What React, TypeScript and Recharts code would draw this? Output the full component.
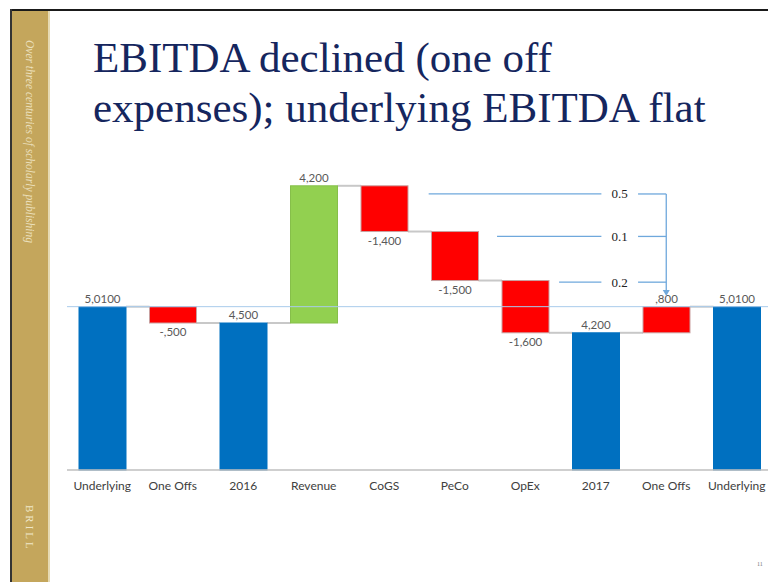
import React from 'react';
import { BarChart, Bar, XAxis, YAxis, ReferenceLine } from 'recharts';

// waterfall steps
const categories = ['Underlying', 'One Offs', '2016', 'Revenue', 'CoGS', 'PeCo', 'OpEx', '2017', 'One Offs', 'Underlying'];
const amounts = [5000, -500, 4500, 4200, -1400, -1500, -1600, 4200, 800, 5000];
const kinds = ['total', 'cost', 'total', 'income', 'cost', 'cost', 'cost', 'total', 'cost', 'total'];
const valueLabels = ['5,0100', '-,500', '4,500', '4,200', '-1,400', '-1,500', '-1,600', '4,200', ',800', '5,0100'];

// callouts on the right
const noteLabels = ['0.5', '0.1', '0.2'];
const noteLevels = [8450, 7150, 5750];
const underlyingLevel = 5000;

const PAGE_W = 768;
const PAGE_H = 582;
const CHART_W = 772;
const CHART_H = 500;
const PLOT_LEFT = 67;
const PLOT_TOP = 176;
const AXIS_H = 30;
const PLOT_BOTTOM = CHART_H - AXIS_H;
const Y_MAX = 9000;
const BAND = (CHART_W - PLOT_LEFT) / categories.length;

const COLORS: Record<string, string> = {
  total: '#0070C0',
  cost: '#FF0000',
  income: '#92D050',
};
const EDGE: Record<string, string> = {
  total: '#0070C0',
  cost: '#C9A0A0',
  income: '#86BF4A',
};

let running = 0;
const rows = categories.map((name, i) => {
  const isTotal = kinds[i] === 'total';
  const start = isTotal ? 0 : running;
  const end = isTotal ? amounts[i] : running + amounts[i];
  running = end;
  return {
    name,
    range: [Math.min(start, end), Math.max(start, end)],
    rising: end >= start,
    kind: kinds[i],
    label: valueLabels[i],
  };
});

// pixel helpers for the overlay (same scale as the chart)
const xAt = (band: number) => PLOT_LEFT + band * BAND;
const yAt = (v: number) => PLOT_BOTTOM - (v * (PLOT_BOTTOM - PLOT_TOP)) / Y_MAX;

const WaterfallShape = (props: any) => {
  const { x, width, index, payload } = props;
  const y = Math.min(props.y, props.y + props.height);
  const h = Math.abs(props.height);
  const endY = payload.rising ? y : y + h;
  const isLast = index === rows.length - 1;
  return (
    <g>
      {!isLast && (
        <line x1={x + width} x2={x + BAND} y1={endY} y2={endY} stroke="#C8C8C8" strokeWidth={2} />
      )}
      <rect x={x} y={y} width={width} height={h} fill={COLORS[payload.kind]} stroke={EDGE[payload.kind]} strokeWidth={1} />
      <text
        x={x + width / 2}
        y={payload.rising ? y - 4 : y + h + 13}
        textAnchor="middle"
        fill="#595959"
        fontSize={11.5}
        fontFamily="Lato, 'Open Sans', sans-serif"
      >
        {payload.label}
      </text>
    </g>
  );
};

const Overlay = () => {
  const split = xAt(7.58);
  const resume = xAt(8.1);
  const textX = xAt(7.84);
  const arrowX = xAt(8.5);
  const starts = [5.13, 6.1, 6.98];
  const arrowTip = 296;
  return (
    <svg width={PAGE_W} height={PAGE_H} style={{ position: 'absolute', left: 0, top: 0, pointerEvents: 'none' }}>
      {/* frame + sidebar */}
      <rect x={10} y={9} width={PAGE_W - 10} height={2} fill="#1a1a1a" />
      <rect x={10} y={9} width={2} height={PAGE_H - 9} fill="#333" />
      <rect x={12} y={11} width={36} height={PAGE_H - 11} fill="#C4A65C" />
      <rect x={48} y={11} width={2} height={PAGE_H - 11} fill="#E6DAB3" />
      <text
        x={26}
        y={40}
        transform="rotate(90 26 40)"
        fill="#EADFBA"
        fontSize={11.5}
        fontStyle="italic"
        fontFamily="'Liberation Serif', serif"
      >
        Over three centuries of scholarly publishing
      </text>
      <text
        x={26}
        y={505}
        transform="rotate(90 26 505)"
        fill="#EFE6C8"
        fontSize={11}
        letterSpacing={3}
        fontFamily="'Liberation Serif', serif"
      >
        BRILL
      </text>

      {/* title */}
      <text fill="#15265E" fontSize={43} fontFamily="'Liberation Serif', serif">
        <tspan x={93} y={72}>EBITDA declined (one off</tspan>
        <tspan x={93} y={122}>expenses); underlying EBITDA flat</tspan>
      </text>

      {/* callouts */}
      {noteLabels.map((t, i) => {
        const y = yAt(noteLevels[i]);
        return (
          <g key={i}>
            <line x1={xAt(starts[i])} x2={split} y1={y} y2={y} stroke="#6FA8DC" strokeWidth={1.3} />
            <line x1={resume} x2={arrowX} y1={y} y2={y} stroke="#6FA8DC" strokeWidth={1.3} />
            <text x={textX} y={y + 4.5} textAnchor="middle" fontSize={13} fill="#222" fontFamily="'Liberation Serif', serif">
              {t}
            </text>
          </g>
        );
      })}
      <line x1={arrowX} x2={arrowX} y1={yAt(noteLevels[0])} y2={arrowTip - 5} stroke="#6FA8DC" strokeWidth={1.3} />
      <polygon
        points={`${arrowX - 3.5},${arrowTip - 6} ${arrowX + 3.5},${arrowTip - 6} ${arrowX},${arrowTip}`}
        fill="#6FA8DC"
      />

      <text x={757} y={566} fontSize={6} fill="#777" fontFamily="'Liberation Serif', serif">
        11
      </text>
    </svg>
  );
};

export default function App() {
  return (
    <div style={{ position: 'absolute', left: 0, top: 0, width: PAGE_W, height: PAGE_H, overflow: 'hidden', background: '#fff' }}>
      <div style={{ position: 'absolute', left: 0, top: 0 }}>
        <BarChart
          width={CHART_W}
          height={CHART_H}
          data={rows}
          margin={{ top: PLOT_TOP, right: 0, left: PLOT_LEFT, bottom: 0 }}
          barSize={47}
        >
          <XAxis
            dataKey="name"
            height={AXIS_H}
            interval={0}
            tickLine={false}
            tickMargin={5}
            axisLine={{ stroke: '#BFBFBF', strokeWidth: 1.5 }}
            tick={{ fill: '#404040', fontSize: 12, fontFamily: 'Lato, sans-serif' }}
          />
          <YAxis hide domain={[0, Y_MAX]} />
          <Bar dataKey="range" shape={<WaterfallShape />} isAnimationActive={false} />
          <ReferenceLine y={underlyingLevel} stroke="#A9CBEB" strokeWidth={1} />
        </BarChart>
      </div>
      <Overlay />
    </div>
  );
}
